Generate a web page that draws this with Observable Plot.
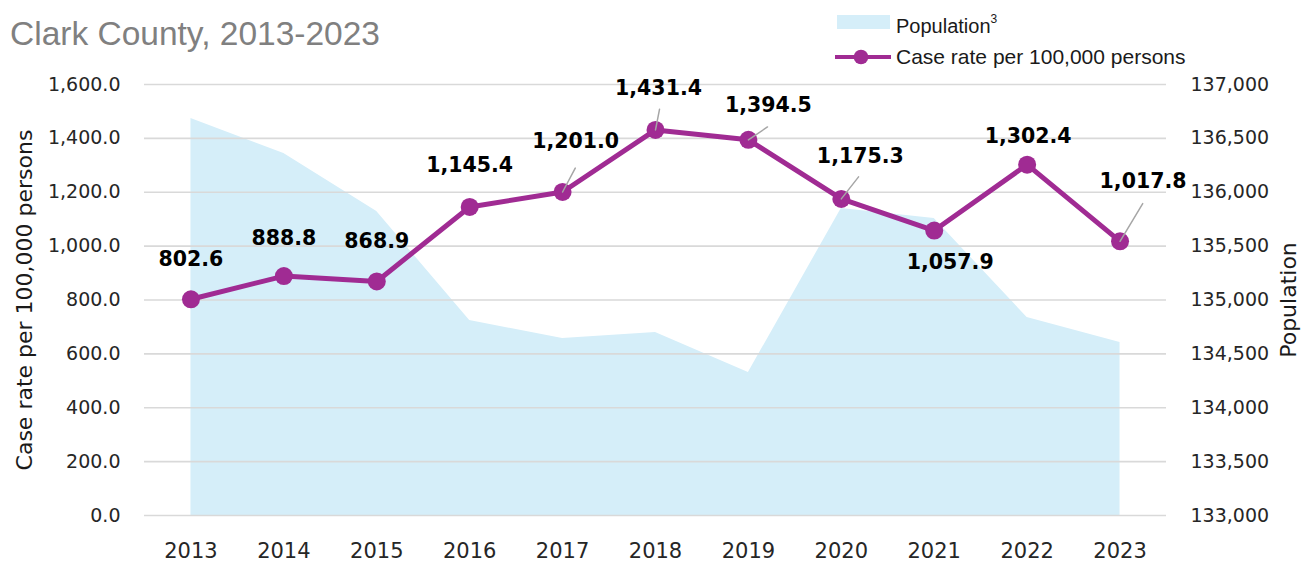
<!DOCTYPE html>
<html><head><meta charset="utf-8">
<script src="https://cdn.jsdelivr.net/npm/d3@7"></script>
<script src="https://cdn.jsdelivr.net/npm/@observablehq/plot@0.6"></script>
<style>
html,body{margin:0;padding:0;background:#fff;}
#wrap{position:relative;width:1314px;height:565px;overflow:hidden;background:#fff;}
#chart{position:absolute;left:0;top:0;}
.sub{position:absolute;left:10px;top:16.6px;font-family:"Liberation Sans",Arial,sans-serif;font-size:33.5px;line-height:33.5px;color:#808080;white-space:nowrap;}
.lg{position:absolute;font-family:"Liberation Sans",Arial,sans-serif;color:#1a1a1a;white-space:nowrap;}
.lg sup{font-size:12px;position:relative;top:-2px;}
#chart g[aria-label="y-axis tick label"] text{font-family:"DejaVu Sans",sans-serif;font-size:19px;fill:#262626;}
#chart g[aria-label="x-axis tick label"] text{font-family:"DejaVu Sans",sans-serif;font-size:21px;fill:#262626;}
</style></head>
<body>
<div id="wrap">
  <div id="chart"></div>
  <div class="sub">Clark County, 2013-2023</div>
  <div id="legend"></div>
</div>
<script>
// ---- data ----
const years = ["2013","2014","2015","2016","2017","2018","2019","2020","2021","2022","2023"];
const caseRate = [802.6, 888.8, 868.9, 1145.4, 1201.0, 1431.4, 1394.5, 1175.3, 1057.9, 1302.4, 1017.8];
const population = [136684, 136360, 135821, 134810, 134643, 134698, 134327, 135849, 135756, 134838, 134606];
const rateTicks = [0, 200, 400, 600, 800, 1000, 1200, 1400, 1600];
const popTicks = [133000, 133500, 134000, 134500, 135000, 135500, 136000, 136500, 137000];
const leftTitle = "Case rate per 100,000 persons";
const rightTitle = "Population";
const legendPop = "Population";
const legendRate = "Case rate per 100,000 persons";

// label placement (pixel nudges) and leader lines (length px, angle deg)
const labelNudge = [[0,-40],[0,-38],[0,-40],[0,-42],[13,-51],[3,-41],[20,-34],[19,-42],[16,32],[1,-28],[23,-60]];
const leader = [null,null,null,null,[27,28],[21,11],[23,56],[28,38],null,null,[44,31]];

const PURPLE = "#a02b93";
const AREA = "#d5eef9";

// secondary axis mapping: population -> case-rate units
const r0 = rateTicks[0], r1 = rateTicks[rateTicks.length-1];
const p0 = popTicks[0], p1 = popTicks[popTicks.length-1];
const popToRate = p => r0 + (p - p0) / (p1 - p0) * (r1 - r0);
const rateToPop = r => p0 + (r - r0) / (r1 - r0) * (p1 - p0);

const data = years.map((year, i) => ({year, rate: caseRate[i], pop: population[i], popRate: popToRate(population[i]), i}));
const leaderData = data.filter(d => leader[d.i]).map(d => ({...d, len: leader[d.i][0], ang: leader[d.i][1]}));

const lineShape = {draw(context, l) { context.moveTo(0, 0); context.lineTo(0, -l); }};
const fmt1 = d3.format(",.1f");
const fmt0 = d3.format(",");

const labelMarks = data.map(d => Plot.text([d], {
  x: "year", y: "rate", text: dd => fmt1(dd.rate),
  dx: labelNudge[d.i][0], dy: labelNudge[d.i][1],
  fontFamily: "DejaVu Sans", fontWeight: "bold", fontSize: 20.5, fill: "#000"
}));

const chart = Plot.plot({
  width: 1314,
  height: 565,
  marginTop: 84,
  marginBottom: 50,
  marginLeft: 144,
  marginRight: 148,
  style: {fontFamily: "DejaVu Sans", fontSize: "19px", background: "#fff", overflow: "visible"},
  x: {type: "point", domain: years, padding: 0.5, round: false},
  y: {domain: [r0, r1]},
  length: {type: "identity"},
  marks: [
    Plot.areaY(data, {x: "year", y: "popRate", fill: AREA, fillOpacity: 1}),
    Plot.gridY(rateTicks, {stroke: "#d9d9d9", strokeOpacity: 1, strokeWidth: 1.6}),
    Plot.axisY(rateTicks, {anchor: "left", tickSize: 0, tickPadding: 24, tickFormat: fmt1, label: null}),
    Plot.axisY(rateTicks, {anchor: "right", tickSize: 0, tickPadding: 24, tickFormat: d => fmt0(Math.round(rateToPop(d))), label: null}),
    Plot.axisX({tickSize: 0, tickPadding: 28, label: null}),
    Plot.text([leftTitle], {frameAnchor: "left", dx: -120, rotate: -90, textAnchor: "middle", fontFamily: "DejaVu Sans", fontSize: 22, fill: "#1a1a1a"}),
    Plot.text([rightTitle], {frameAnchor: "right", dx: 122, rotate: -90, textAnchor: "middle", fontFamily: "DejaVu Sans", fontSize: 22, fill: "#1a1a1a"}),
    Plot.line(data, {x: "year", y: "rate", stroke: PURPLE, strokeWidth: 5}),
    Plot.dot(data, {x: "year", y: "rate", r: 9, fill: PURPLE, stroke: "none"}),
    Plot.vector(leaderData, {x: "year", y: "rate", length: "len", rotate: "ang", anchor: "start", shape: lineShape, stroke: "#a6a6a6", strokeWidth: 1.5}),
    ...labelMarks
  ]
});
document.getElementById("chart").appendChild(chart);

// legend (HTML overlay)
const lg = document.getElementById("legend");
lg.innerHTML = `
  <div style="position:absolute;left:837px;top:15px;width:53px;height:14px;background:${AREA}"></div>
  <div class="lg" style="left:896px;top:11px;font-size:20px;line-height:20px;">${legendPop}<sup>3</sup></div>
  <svg style="position:absolute;left:830px;top:47px;" width="66" height="20">
    <line x1="5" y1="10" x2="61" y2="10" stroke="${PURPLE}" stroke-width="4"/>
    <circle cx="31" cy="10" r="7.3" fill="${PURPLE}"/>
  </svg>
  <div class="lg" style="left:896px;top:46px;font-size:21px;line-height:21px;">${legendRate}</div>
`;
</script>
</body></html>
